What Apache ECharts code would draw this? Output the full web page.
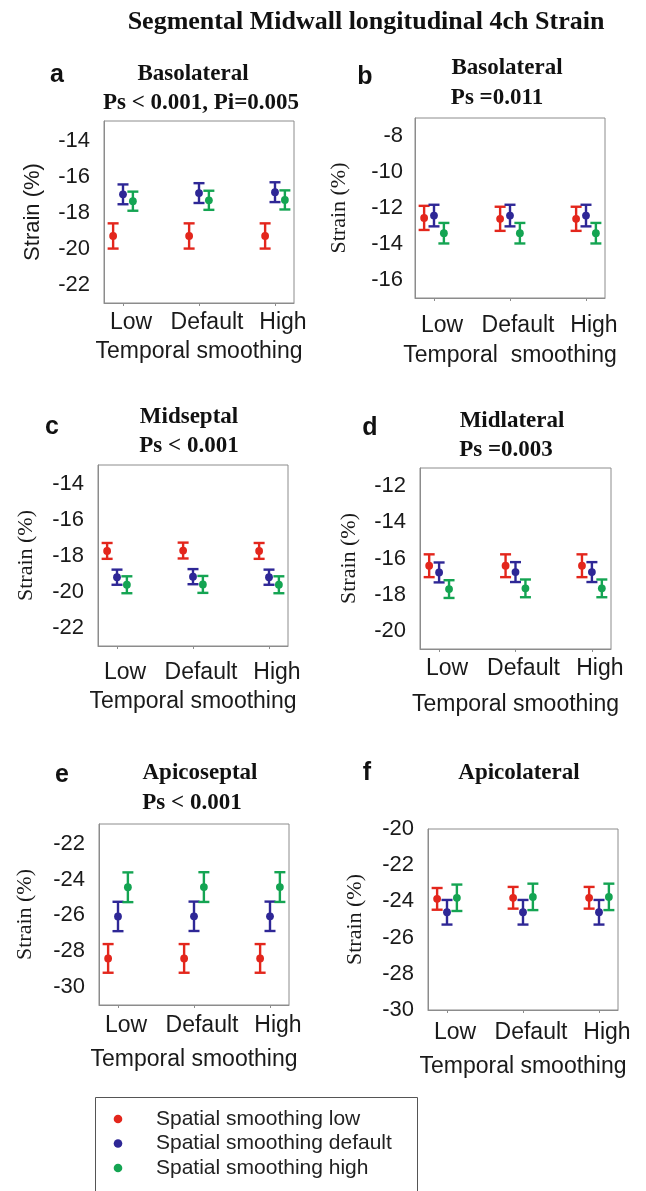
<!DOCTYPE html>
<html>
<head>
<meta charset="utf-8">
<script src="https://cdn.jsdelivr.net/npm/echarts@6/dist/echarts.min.js"></script>
<style>
html,body{margin:0;padding:0;background:#fff;}
#chart{width:646px;height:1191px;}
</style>
</head>
<body>
<div id="chart"></div>
<script>
// ---------- data ----------
const mainTitle = 'Segmental Midwall longitudinal 4ch Strain';
const categories = ['Low', 'Default', 'High'];
const groupNames = ['Spatial smoothing low', 'Spatial smoothing default', 'Spatial smoothing high'];
const groupColors = ['#e3261c', '#2e2796', '#14a452'];
const panelLetters = ['a', 'b', 'c', 'd', 'e', 'f'];
const panelSegments = ['Basolateral', 'Basolateral', 'Midseptal', 'Midlateral', 'Apicoseptal', 'Apicolateral'];
const panelPvalues = ['Ps < 0.001, Pi=0.005', 'Ps =0.011', 'Ps < 0.001', 'Ps =0.003', 'Ps < 0.001', ''];
const xAxisName = ['Temporal smoothing', 'Temporal  smoothing', 'Temporal smoothing', 'Temporal smoothing', 'Temporal smoothing', 'Temporal smoothing'];
const yAxisName = 'Strain (%)';

// means per spatial group (low, default, high) across temporal Low/Default/High
const aMean = [[-19.28, -19.28, -19.28], [-16.97, -16.90, -16.85], [-17.35, -17.30, -17.28]];
const aErr  = [[0.70, 0.70, 0.70], [0.55, 0.55, 0.55], [0.53, 0.53, 0.53]];
const bMean = [[-12.55, -12.60, -12.60], [-12.42, -12.42, -12.42], [-13.40, -13.40, -13.40]];
const bErr  = [[0.67, 0.67, 0.67], [0.60, 0.60, 0.60], [0.57, 0.57, 0.57]];
const cMean = [[-17.72, -17.70, -17.72], [-19.18, -19.15, -19.18], [-19.60, -19.58, -19.60]];
const cErr  = [[0.44, 0.44, 0.44], [0.42, 0.42, 0.42], [0.47, 0.47, 0.47]];
const dMean = [[-16.40, -16.40, -16.40], [-16.77, -16.75, -16.75], [-17.69, -17.65, -17.65]];
const dErr  = [[0.63, 0.63, 0.63], [0.55, 0.55, 0.55], [0.49, 0.49, 0.49]];
const eMean = [[-28.40, -28.40, -28.40], [-26.06, -26.05, -26.05], [-24.43, -24.42, -24.42]];
const eErr  = [[0.80, 0.80, 0.80], [0.82, 0.82, 0.82], [0.83, 0.83, 0.83]];
const fMean = [[-23.86, -23.80, -23.80], [-24.60, -24.60, -24.60], [-23.80, -23.75, -23.75]];
const fErr  = [[0.60, 0.60, 0.60], [0.68, 0.68, 0.68], [0.73, 0.73, 0.73]];

const aTicks = [-22, -20, -18, -16, -14];
const bTicks = [-16, -14, -12, -10, -8];
const cTicks = [-22, -20, -18, -16, -14];
const dTicks = [-20, -18, -16, -14, -12];
const eTicks = [-30, -28, -26, -24, -22];
const fTicks = [-30, -28, -26, -24, -22, -20];

const aRange = [-23, -12.9];
const bRange = [-17, -7];
const cRange = [-23, -12.95];
const dRange = [-21, -11];
const eRange = [-31, -20.9];
const fRange = [-30, -20];

// ---------- layout ----------
const means = [aMean, bMean, cMean, dMean, eMean, fMean];
const errs = [aErr, bErr, cErr, dErr, eErr, fErr];
const ticks = [aTicks, bTicks, cTicks, dTicks, eTicks, fTicks];
const ranges = [aRange, bRange, cRange, dRange, eRange, fRange];

const grids = [
  {left: 104, top: 121, width: 190, height: 182},
  {left: 415, top: 118, width: 190, height: 180},
  {left: 98, top: 465, width: 190, height: 181},
  {left: 420, top: 468, width: 191, height: 181},
  {left: 99, top: 824, width: 190, height: 181},
  {left: 428, top: 829, width: 190, height: 181}
];
const labelMargin = [8, 16, 15, 8, 9, 11];
const nameGapX = [37, 46, 44, 44, 43, 45];
const nameGapY = [60, 65, 61, 60, 63, 62];
const yLabelMargin = [14, 12, 14, 14, 14, 14];
const ySans = [true, false, false, false, false, false];

const sans = '"Liberation Sans", Arial, Helvetica, sans-serif';
const serif = '"Liberation Serif", "Times New Roman", serif';
const offsets = [-0.13, 0, 0.13];

function renderer(offset, color) {
  return function (params, api) {
    const x = api.value(0) + offset;
    const pm = api.coord([x, api.value(1)]);
    const pl = api.coord([x, api.value(2)]);
    const ph = api.coord([x, api.value(3)]);
    const cw = 5.5;
    const st = {stroke: color, lineWidth: 2.4};
    return {
      type: 'group',
      children: [
        {type: 'line', shape: {x1: pm[0], y1: ph[1], x2: pm[0], y2: pl[1]}, style: st},
        {type: 'line', shape: {x1: pm[0] - cw, y1: ph[1], x2: pm[0] + cw, y2: ph[1]}, style: st},
        {type: 'line', shape: {x1: pm[0] - cw, y1: pl[1], x2: pm[0] + cw, y2: pl[1]}, style: st},
        {type: 'circle', shape: {cx: pm[0], cy: pm[1], r: 3.9}, style: {fill: color}}
      ]
    };
  };
}

const option = {
  animation: false,
  backgroundColor: '#fff',
  grid: [], xAxis: [], yAxis: [], series: [], graphic: []
};

grids.forEach((g, p) => {
  option.grid.push(Object.assign({show: true, borderColor: '#8c8c8c', borderWidth: 1, backgroundColor: 'transparent'}, g));
  option.xAxis.push({
    type: 'value', gridIndex: p, min: 0.75, max: 3.25,
    name: xAxisName[p], nameLocation: 'middle', nameGap: nameGapX[p],
    nameTextStyle: {fontFamily: sans, fontSize: 23, color: '#1a1a1a'},
    axisLine: {show: true, lineStyle: {color: '#8c8c8c', width: 1}},
    axisTick: {show: true, length: 3, customValues: [1, 2, 3], lineStyle: {color: '#8c8c8c'}},
    axisLabel: {customValues: [1, 2, 3], formatter: v => categories[Math.round(v) - 1],
      fontFamily: sans, fontSize: 23, color: '#1a1a1a', margin: labelMargin[p], padding: [0, 0, 0, 16]},
    splitLine: {show: false}
  });
  option.yAxis.push({
    type: 'value', gridIndex: p, min: ranges[p][0], max: ranges[p][1],
    name: yAxisName, nameLocation: 'middle', nameGap: nameGapY[p], nameRotate: 90,
    nameTextStyle: {fontFamily: ySans[p] ? sans : serif, fontSize: 22, color: '#1a1a1a'},
    axisLine: {show: true, lineStyle: {color: '#8c8c8c', width: 1}},
    axisTick: {show: false},
    axisLabel: {customValues: ticks[p], fontFamily: sans, fontSize: 22, color: '#1a1a1a', margin: yLabelMargin[p]},
    splitLine: {show: false}
  });
  groupNames.forEach((name, gi) => {
    option.series.push({
      type: 'custom', name: name, xAxisIndex: p, yAxisIndex: p,
      renderItem: renderer(offsets[gi], groupColors[gi]),
      data: categories.map((c, i) => [i + 1, means[p][gi][i], means[p][gi][i] - errs[p][gi][i], means[p][gi][i] + errs[p][gi][i]]),
      clip: false
    });
  });
});

// texts
const letterPos = [[57, 75], [365, 77], [52, 427], [370, 428], [62, 775], [367, 773]];
const segPos = [[193, 74], [507, 68], [189, 417], [512, 421], [200, 773], [519, 773]];
const pPos = [[201, 103], [497, 98], [189, 446], [506, 450], [192, 803], [0, 0]];

option.graphic.push({type: 'text', x: 366, y: 22, style: {text: mainTitle, font: 'bold 26px ' + serif, fill: '#111', textAlign: 'center', textVerticalAlign: 'middle'}});
panelLetters.forEach((l, p) => {
  option.graphic.push({type: 'text', x: letterPos[p][0], y: letterPos[p][1], style: {text: l, font: 'bold 25px ' + sans, fill: '#111', textAlign: 'center', textVerticalAlign: 'middle'}});
  option.graphic.push({type: 'text', x: segPos[p][0], y: segPos[p][1], style: {text: panelSegments[p], font: 'bold 23px ' + serif, fill: '#111', textAlign: 'center', textVerticalAlign: 'middle'}});
  if (panelPvalues[p]) {
    option.graphic.push({type: 'text', x: pPos[p][0], y: pPos[p][1], style: {text: panelPvalues[p], font: 'bold 23px ' + serif, fill: '#111', textAlign: 'center', textVerticalAlign: 'middle'}});
  }
});

// legend box
option.graphic.push({type: 'rect', shape: {x: 95.5, y: 1097.5, width: 322, height: 130}, style: {fill: 'none', stroke: '#555', lineWidth: 1}});
groupNames.forEach((name, gi) => {
  const y = 1119 + gi * 24.5;
  option.graphic.push({type: 'circle', shape: {cx: 118, cy: y, r: 4.3}, style: {fill: groupColors[gi]}});
  option.graphic.push({type: 'text', x: 156, y: y, style: {text: name, font: '21px ' + sans, fill: '#222', textVerticalAlign: 'middle'}});
});

const chart = echarts.init(document.getElementById('chart'), null, {renderer: 'canvas'});
chart.setOption(option);
</script>
</body>
</html>
